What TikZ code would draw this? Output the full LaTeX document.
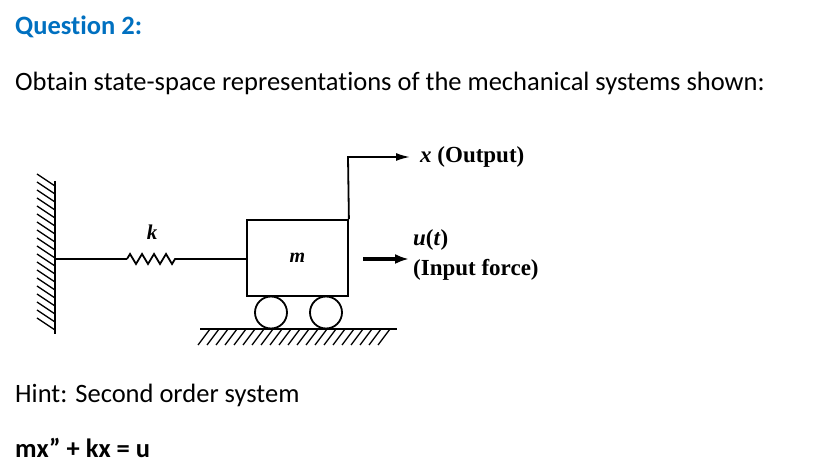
\documentclass[tikz,border=0pt]{standalone}
\usepackage{fontspec}
\setmainfont{Carlito}[Ligatures={NoCommon}]
\newfontfamily\tms{Liberation Serif}
\usetikzlibrary{patterns,decorations.pathmorphing,arrows.meta}
\begin{document}
\begin{tikzpicture}[x=1pt,y=-1pt,
  txt/.style={anchor=west,inner sep=0pt,font=\fontsize{26.5}{30}\selectfont},
  lab/.style={anchor=west,inner sep=0pt,font=\tms\bfseries\fontsize{23}{26}\selectfont},
  ln/.style={line width=1.8pt},
  hatch/.style={line width=1.3pt}]
\useasboundingbox (0,0) rectangle (820,470);
\node[txt,text={rgb,255:red,0;green,112;blue,192},font=\bfseries\fontsize{26.5}{30}\selectfont] (q) at (15,27) {Question 2:};
\node[txt] (ob) at (15,83) {Obtain state-space representations of the mechanical systems shown:};
\node[txt] (hint) at (15,395) {Hint: Second order system};
\node[txt,font=\bfseries\fontsize{26.5}{30}\selectfont] (eq) at (15,448) {mx'' + kx = u};
% wall
\coordinate (w1) at (55,181); \coordinate (w2) at (55,334);
\draw[ln] (w1) -- (w2);
\foreach \y in {186,194,...,334} \draw[hatch] (55,\y) -- (37,\y-12);
% ground
\coordinate (g1) at (200,329); \coordinate (g2) at (397,329);
\draw[ln] (g1) -- (g2);
\foreach \x in {210,219,...,397} \draw[hatch] (\x,329) -- (\x-12,345);
% mass
\node[draw,line width=1.8pt,minimum width=101pt,minimum height=76pt,inner sep=0pt,font=\tms\itshape\bfseries\fontsize{20}{22}\selectfont] (m) at (297.5,258) {m};
\node[draw,circle,line width=1.8pt,minimum size=32pt,inner sep=0pt] (c1) at (271,312.5) {};
\node[draw,circle,line width=1.8pt,minimum size=32pt,inner sep=0pt] (c2) at (326,312.5) {};
% spring
\coordinate (s0) at (55,259); \coordinate (s1) at (127,259); \coordinate (s2) at (177,259);
\draw[ln] (s0) -- (s1);
\draw[ln,decorate,decoration={zigzag,segment length=12pt,amplitude=5pt}] (s1) -- (s2);
\draw[ln] (s2) -- (m.west |- s2);
\node[lab,font=\tms\itshape\bfseries\fontsize{21}{22}\selectfont,anchor=center] (k) at (152,232) {k};
% output
\coordinate (o1) at (348,157);
\node[lab] (xo) at (420,157) {\textit{x} (Output)};
\draw[ln,-{Latex[length=14pt,width=8pt]}] (m.north east) -- (o1) -- ([xshift=-10pt]xo.west);
% input
\coordinate (i1) at (363,259); \coordinate (i2) at (409,259);
\draw[line width=3.5pt,-{Latex[length=14pt,width=10pt]}] (i1) -- (i2);
\node[lab] (u) at (413,240) {\textit{u}(\textit{t})};
\node[lab] (uf) at (413,270) {(Input force)};
\end{tikzpicture}
\end{document}
